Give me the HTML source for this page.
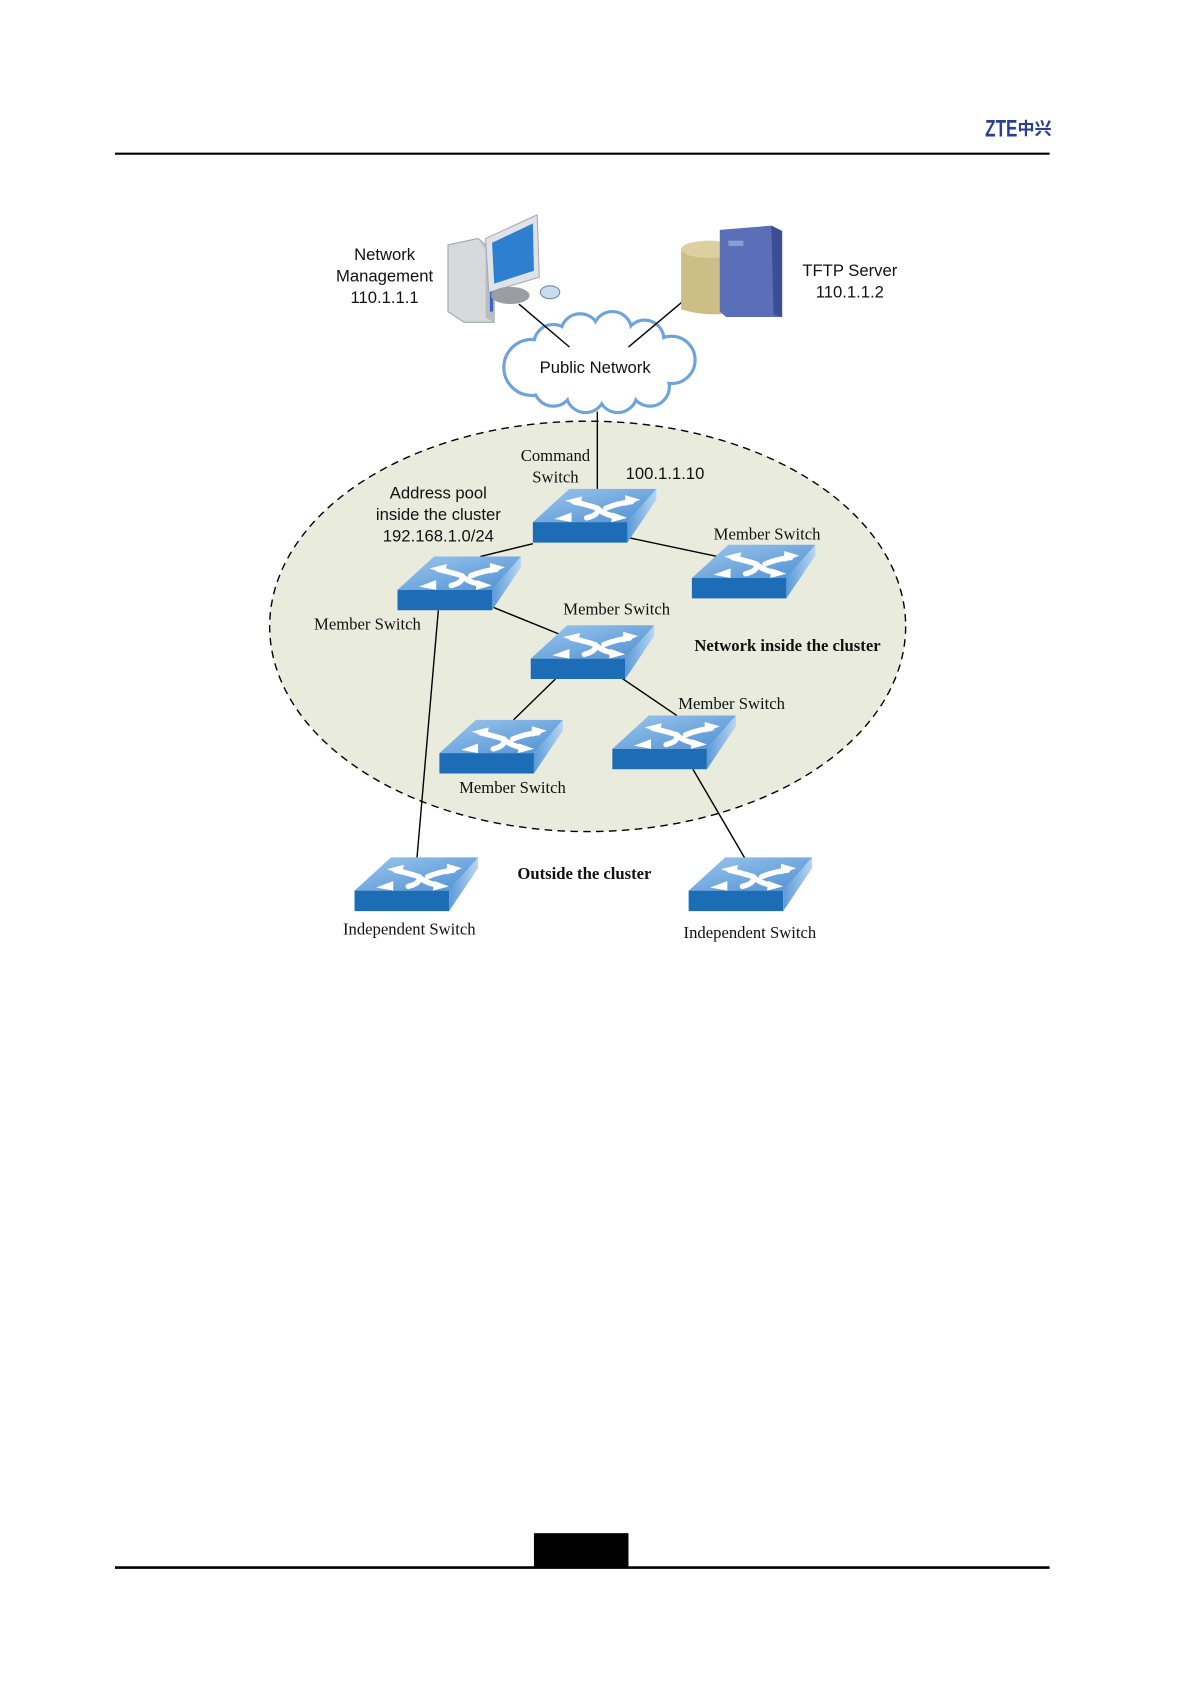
<!DOCTYPE html>
<html><head><meta charset="utf-8"><style>
html,body{margin:0;padding:0;background:#fff}
svg{display:block}
.s{font-family:"Liberation Sans",sans-serif;font-size:15.5px;fill:#111}
.r{font-family:"Liberation Serif",serif;font-size:15.5px;fill:#111}
.b{font-family:"Liberation Serif",serif;font-size:15.5px;font-weight:bold;fill:#111}
</style></head><body>
<svg width="1191" height="1684" viewBox="0 0 1108.6 1567.4" preserveAspectRatio="none" xmlns="http://www.w3.org/2000/svg">
<defs>
<linearGradient id="tg" x1="0" y1="0" x2="1" y2="1"><stop offset="0" stop-color="#9cc6ee"/><stop offset="1" stop-color="#4f90d2"/></linearGradient>
<linearGradient id="sg" x1="0" y1="0" x2="1" y2="0"><stop offset="0" stop-color="#5b9ad8"/><stop offset="1" stop-color="#b9d6f2"/></linearGradient>
<g id="sw">
<polygon points="34,0 115,0 88,31 0,31" fill="url(#tg)"/>
<polygon points="0,31 88,31 88,50 0,50" fill="#1d6db6"/>
<polygon points="88,31 115,0 115,10 88,50" fill="url(#sg)"/>
<g fill="none" stroke="#fff" stroke-width="5" stroke-linecap="round">
<path d="M38,12 Q55,16 60,18 Q62,24 50,27"/>
<path d="M68,18 Q80,13 92,12"/>
<path d="M60,18 Q66,24 78,26"/>
</g>
<g fill="#fff">
<polygon points="30,11 46,7 44,16"/>
<polygon points="100,10 86,6 86,16"/>
<polygon points="20,28 36,22 36,31"/>
<polygon points="88,27 74,22 73,31"/>
</g>
</g>
</defs>
<line x1="107" y1="143" x2="977" y2="143" stroke="#000" stroke-width="2"/>
<text x="917" y="127" font-family="Liberation Sans,sans-serif" font-size="22" font-weight="bold" fill="#2b3f8f" textLength="30" lengthAdjust="spacingAndGlyphs">ZTE</text>
<text x="947" y="125" font-family="Noto Sans CJK SC,sans-serif" font-size="16" font-weight="bold" fill="#2b3f8f">中兴</text>
<line x1="107" y1="1459" x2="977" y2="1459" stroke="#000" stroke-width="2.5"/>
<rect x="497" y="1427" width="88" height="32" fill="#000"/>
<ellipse cx="547" cy="583" rx="296" ry="191" fill="#e9ecdd" stroke="#000" stroke-width="1.3" stroke-dasharray="7,5"/>
<g stroke="#000" stroke-width="1.3">
<line x1="556" y1="383" x2="556" y2="458"/>
<line x1="496" y1="506" x2="447" y2="518"/>
<line x1="583" y1="500" x2="668" y2="518"/>
<line x1="456" y1="564" x2="520" y2="590"/>
<line x1="408" y1="568" x2="388" y2="800"/>
<line x1="517" y1="632" x2="478" y2="670"/>
<line x1="577" y1="630" x2="630" y2="666"/>
<line x1="645" y1="716" x2="694" y2="800"/>
</g>
<g fill="#fff" stroke="#6fa3dc" stroke-width="3">
<circle cx="495" cy="342" r="26"/><circle cx="515" cy="320" r="18"/><circle cx="540" cy="310" r="18"/><circle cx="570" cy="308" r="18"/><circle cx="600" cy="316" r="18"/><circle cx="625" cy="335" r="22"/><circle cx="605" cy="360" r="18"/><circle cx="575" cy="366" r="18"/><circle cx="545" cy="366" r="18"/><circle cx="515" cy="360" r="18"/>
</g>
<g fill="#fff">
<circle cx="495" cy="342" r="24.5"/><circle cx="515" cy="320" r="16.5"/><circle cx="540" cy="310" r="16.5"/><circle cx="570" cy="308" r="16.5"/><circle cx="600" cy="316" r="16.5"/><circle cx="625" cy="335" r="20.5"/><circle cx="605" cy="360" r="16.5"/><circle cx="575" cy="366" r="16.5"/><circle cx="545" cy="366" r="16.5"/><circle cx="515" cy="360" r="16.5"/><ellipse cx="558" cy="340" rx="70" ry="28"/>
</g>
<g stroke="#000" stroke-width="1.3">
<line x1="483" y1="283" x2="530" y2="323"/>
<line x1="635" y1="281" x2="585" y2="323"/>
</g>
<text class="s" x="554" y="347" text-anchor="middle">Public Network</text>
<polygon points="417,228 445,222 460,234 460,300 432,300 417,290" fill="#d7d9dc" stroke="#9aa" stroke-width="1"/>
<polygon points="445,222 460,234 460,300 452,296 452,232" fill="#b9bcc0"/>
<rect x="456" y="250" width="3" height="40" fill="#3a62c0"/>
<polygon points="452,222 500,200 502,258 455,272" fill="#dfe3e8" stroke="#aab" stroke-width="1"/>
<polygon points="458,226 496,208 497,252 460,264" fill="#2f7fd0"/>
<ellipse cx="475" cy="275" rx="18" ry="8" fill="#9a9ea3"/>
<ellipse cx="512" cy="272" rx="9" ry="6" fill="#c9ddf2" stroke="#789" stroke-width="1"/>
<path d="M634,232 Q660,222 686,226 L686,290 Q660,296 634,288 Z" fill="#cdbd87"/>
<ellipse cx="660" cy="232" rx="26" ry="8" fill="#ddd0a0"/>
<polygon points="670,214 718,210 728,215 728,295 676,295 670,290" fill="#5a6fb7"/>
<polygon points="718,210 728,215 728,295 720,293" fill="#3c4e97"/>
<rect x="678" y="224" width="14" height="5" fill="#8a9bd6"/>
<use href="#sw" x="496" y="455"/>
<use href="#sw" x="370" y="518"/>
<use href="#sw" x="644" y="507"/>
<use href="#sw" x="494" y="582"/>
<use href="#sw" x="409" y="670"/>
<use href="#sw" x="570" y="666"/>
<use href="#sw" x="330" y="798"/>
<use href="#sw" x="641" y="798"/>
<g class="s" text-anchor="middle">
<text x="358" y="242">Network</text><text x="358" y="262">Management</text><text x="358" y="282">110.1.1.1</text>
<text x="791" y="257">TFTP Server</text><text x="791" y="277">110.1.1.2</text>
<text x="408" y="464">Address pool</text><text x="408" y="484">inside the cluster</text><text x="408" y="504">192.168.1.0/24</text>
<text x="619" y="446">100.1.1.10</text>
</g>
<g class="r" text-anchor="middle">
<text x="517" y="429">Command</text><text x="517" y="449">Switch</text>
<text x="714" y="502">Member Switch</text>
<text x="342" y="586">Member Switch</text>
<text x="574" y="572">Member Switch</text>
<text x="681" y="660">Member Switch</text>
<text x="477" y="738">Member Switch</text>
<text x="381" y="870">Independent Switch</text>
<text x="698" y="873">Independent Switch</text>
</g>
<text class="b" x="733" y="606" text-anchor="middle">Network inside the cluster</text>
<text class="b" x="544" y="818" text-anchor="middle">Outside the cluster</text>
</svg>
</body></html>
